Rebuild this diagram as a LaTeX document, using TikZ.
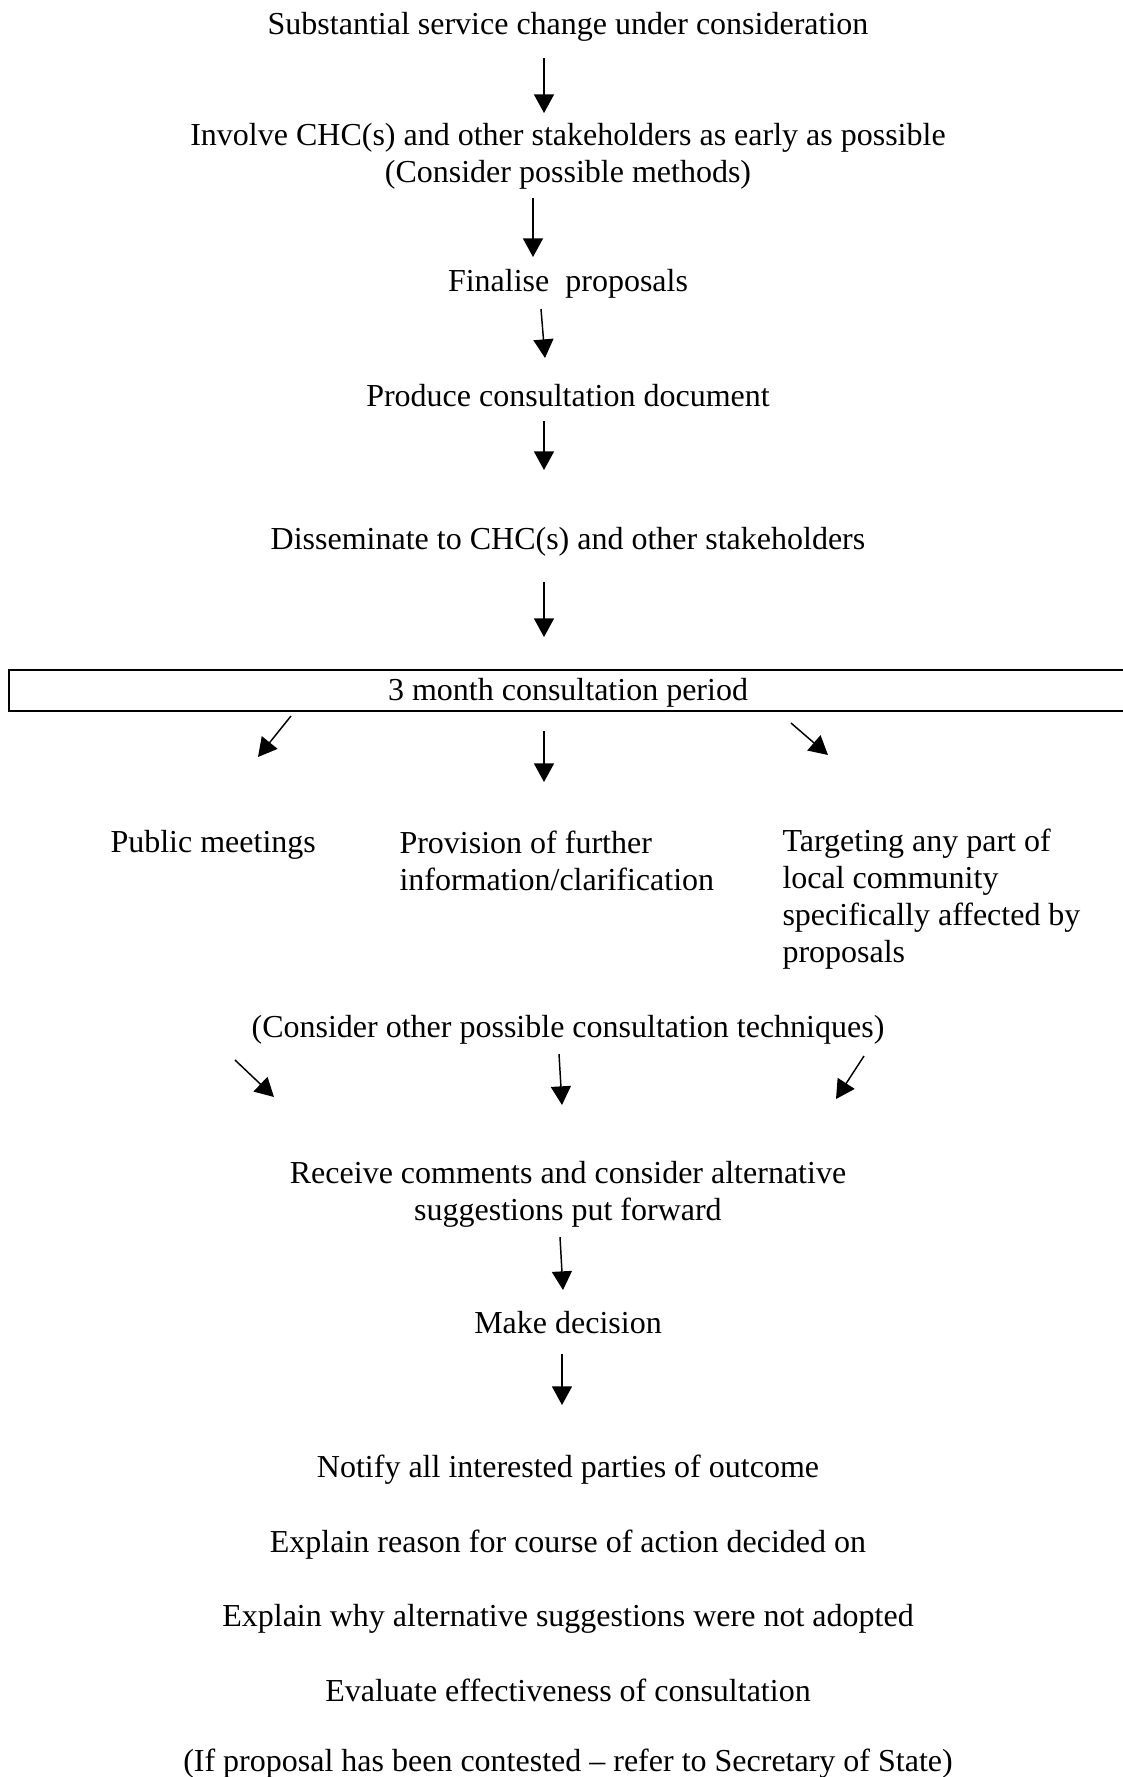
\documentclass[tikz,border=0pt]{standalone}
\usepackage{fontspec}
\setmainfont{Liberation Serif}
\usetikzlibrary{arrows.meta}

\begin{document}
\begin{tikzpicture}[x=0.375pt, y=-0.375pt,
		txt/.style={inner sep=0pt, font=\fontsize{12}{13.9}\selectfont, align=center},
		col/.style={txt, align=left, anchor=west},
		arr/.style={-{Triangle[length=7pt, width=7.5pt]}, line width=0.55pt}]
			\def\W{1123} % picture width
			\def\H{1777} % picture height
			\def\cx{568} % centre line of the text
			
			\clip (0,0) rectangle (\W,\H);
			
			% Steps before consultation
			\node[txt] (change) at (\cx,26.5) {Substantial service change under consideration};
			\node[txt] (involve) at (\cx,156.5) {Involve CHC(s) and other stakeholders as early as possible\\(Consider possible methods)};
			\node[txt] (finalise) at (\cx,283.5) {Finalise\ \ proposals};
			\node[txt] (produce) at (\cx,395.5) {Produce consultation document};
			\node[txt] (dissem) at (\cx,541.5) {Disseminate to CHC(s) and other stakeholders};
			
			% Consultation period (box runs off the right edge)
			\draw[line width=0.8pt] (9,670) rectangle (\W+20,711);
			\node[txt] (period) at (\cx,693) {3 month consultation period};
			
			% Three ways of consulting
			\node[col] (meet) at (110,844.5) {Public meetings};
			\node[col] (info) at (399,861) {Provision of further\\information/clarification};
			\node[col] (target) at (782,899.5) {Targeting any part of\\local community\\specifically affected by\\proposals};
			\node[txt] (other) at (\cx,1030) {(Consider other possible consultation techniques)};
			
			% Steps after consultation
			\node[txt] (receive) at (\cx,1194) {Receive comments and consider alternative\\suggestions put forward};
			\node[txt] (decide) at (\cx,1322.5) {Make decision};
			\node[txt] (notify) at (\cx,1469.5) {Notify all interested parties of outcome};
			\node[txt] (reason) at (\cx,1544.5) {Explain reason for course of action decided on};
			\node[txt] (whynot) at (\cx,1618.5) {Explain why alternative suggestions were not adopted};
			\node[txt] (evaluate) at (\cx,1690.5) {Evaluate effectiveness of consultation};
			\node[txt] (contest) at (\cx,1764) {(If proposal has been contested -- refer to Secretary of State)};
			
			% Arrow ends
			\coordinate (a1s) at (544,58);   \coordinate (a1e) at (544,113);
			\coordinate (a2s) at (533,198);  \coordinate (a2e) at (533,257);
			\coordinate (a3s) at (541,309);  \coordinate (a3e) at (545,358);
			\coordinate (a4s) at (544,421);  \coordinate (a4e) at (544,470);
			\coordinate (a5s) at (544,582);  \coordinate (a5e) at (544,637);
			\coordinate (b1s) at (291,716);  \coordinate (b1e) at (258,757);
			\coordinate (b2s) at (544,731);  \coordinate (b2e) at (544,782);
			\coordinate (b3s) at (791,723);  \coordinate (b3e) at (828,755);
			\coordinate (c1s) at (235,1060); \coordinate (c1e) at (274,1097);
			\coordinate (c2s) at (559,1054); \coordinate (c2e) at (562,1105);
			\coordinate (c3s) at (864,1056); \coordinate (c3e) at (836,1099);
			\coordinate (d1s) at (560,1237); \coordinate (d1e) at (563,1290);
			\coordinate (d2s) at (562,1354); \coordinate (d2e) at (562,1405);
			
			% Arrows
			\foreach \a in {a1,a2,a3,a4,a5,b1,b2,b3,c1,c2,c3,d1,d2}
				\draw[arr] (\a s) -- (\a e);
			
	\end{tikzpicture}
\end{document}
